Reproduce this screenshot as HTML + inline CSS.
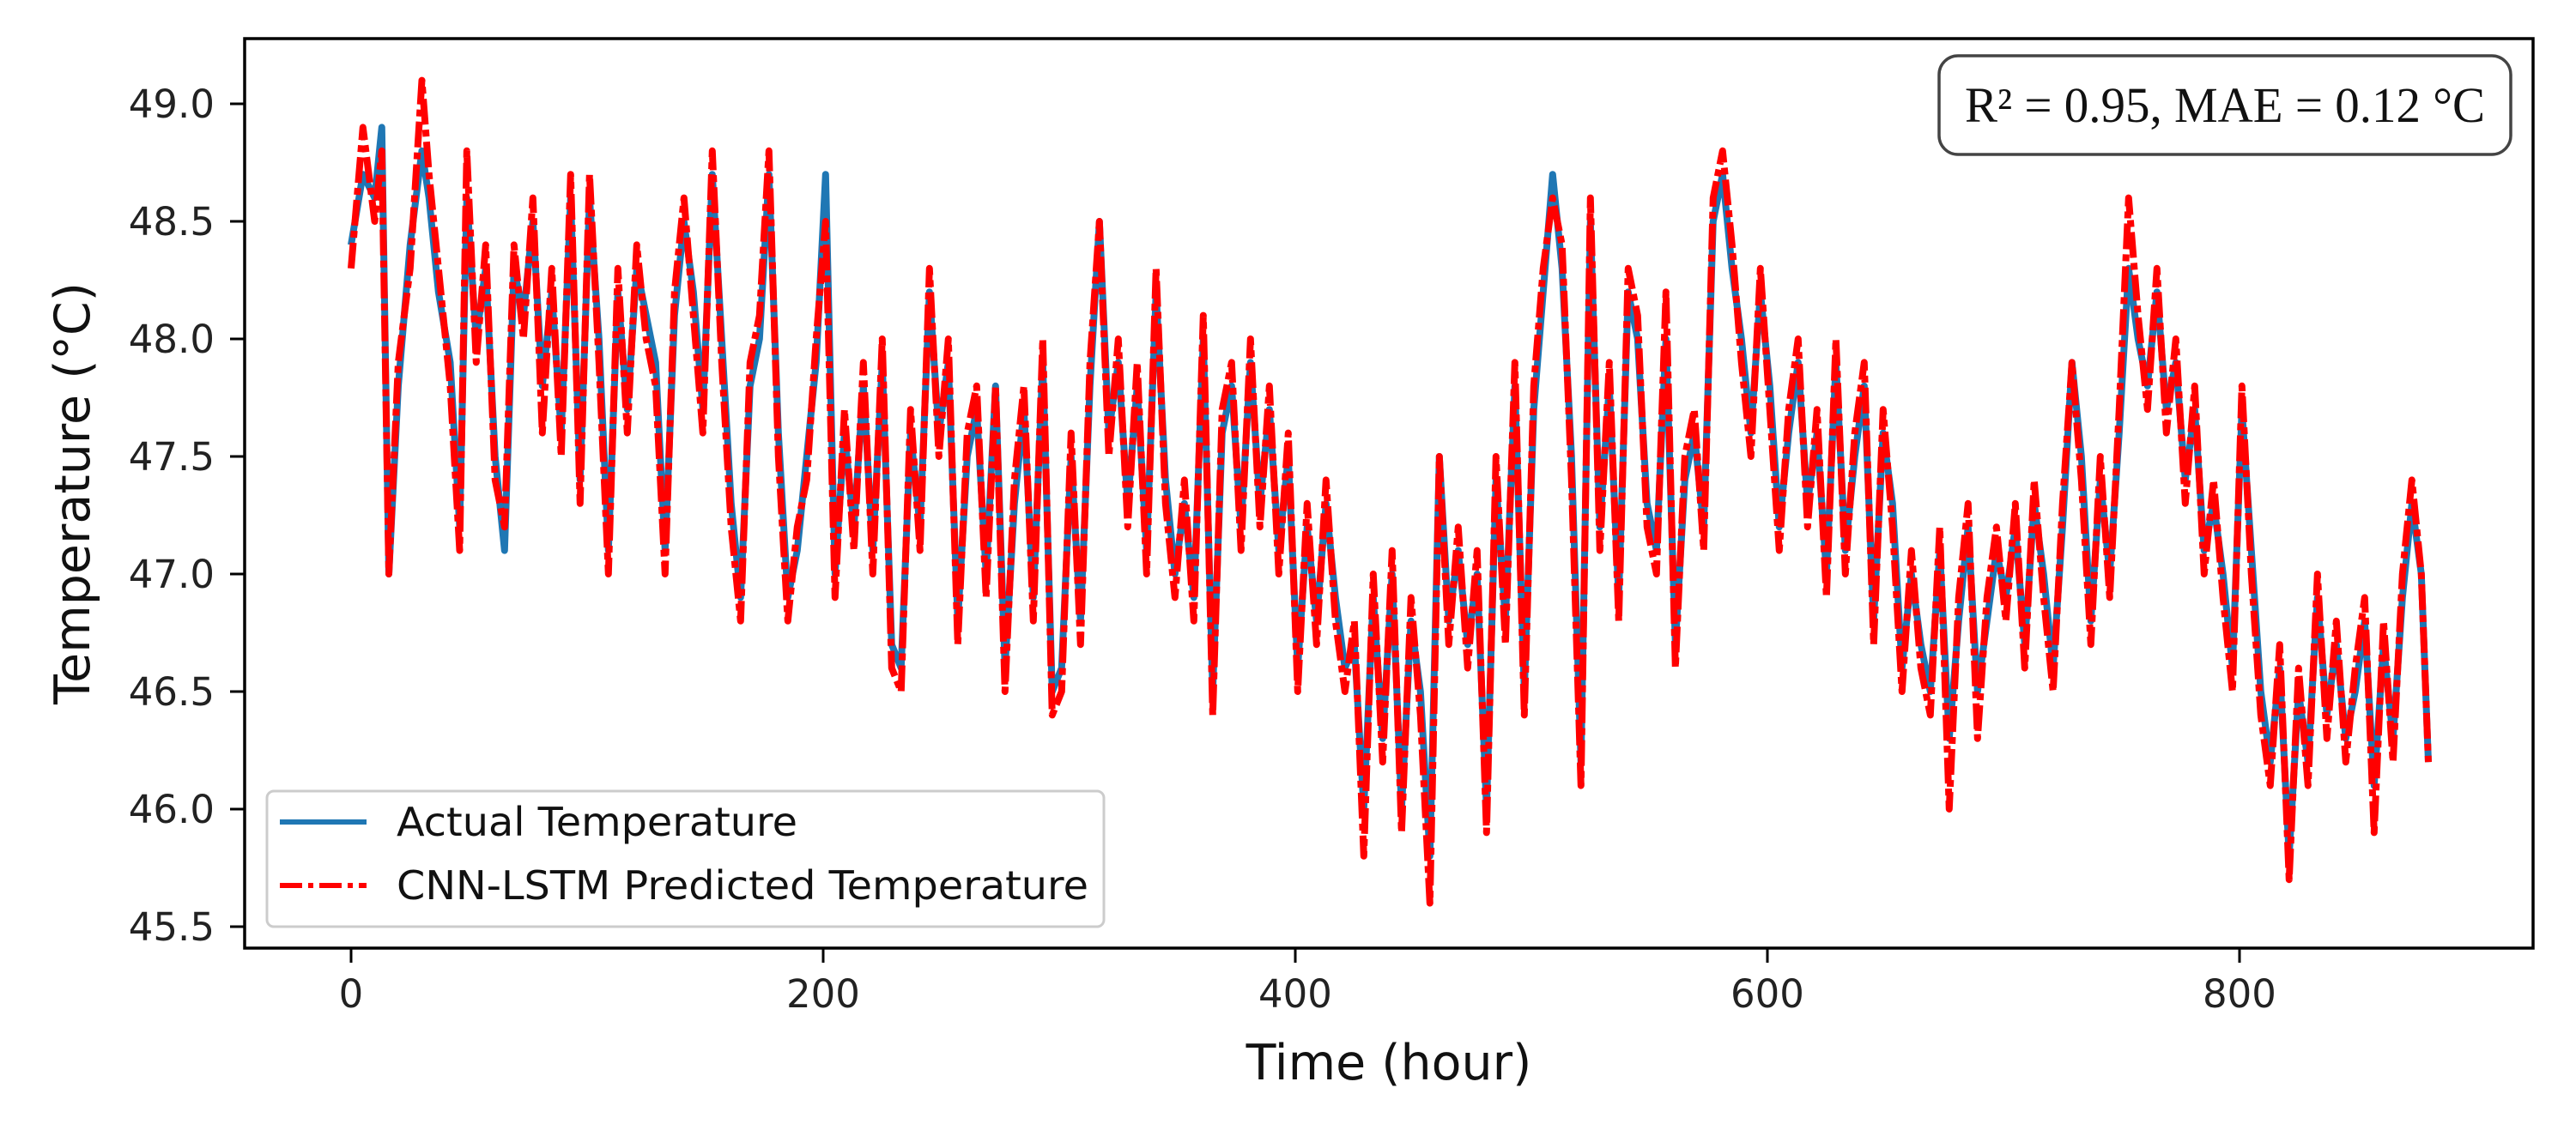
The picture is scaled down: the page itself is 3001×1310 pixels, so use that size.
<!DOCTYPE html>
<html><head><meta charset="utf-8"><style>
html,body{margin:0;padding:0;background:#fff}
svg{display:block}
</style></head><body>
<svg id="chart" width="3001" height="1310" viewBox="0 0 3001 1310" xmlns="http://www.w3.org/2000/svg">
<rect x="0" y="0" width="3001" height="1310" fill="#fff"/>
<defs><clipPath id="clip"><rect x="285" y="45" width="2666" height="1060"/></clipPath></defs>
<g id="series" clip-path="url(#clip)"></g>
<rect x="285" y="45" width="2666" height="1060" fill="none" stroke="#000" stroke-width="3.5"/>
<g id="ticks" font-family="'DejaVu Sans','Liberation Sans',sans-serif" font-size="45" fill="#222"></g>
<text x="1618" y="1258" text-anchor="middle" font-family="'DejaVu Sans','Liberation Sans',sans-serif" font-size="57" fill="#111">Time (hour)</text>
<text transform="translate(104,575) rotate(-90)" text-anchor="middle" font-family="'DejaVu Sans','Liberation Sans',sans-serif" font-size="57" fill="#111">Temperature (°C)</text>
<g>
<rect x="311" y="922" width="975" height="158" rx="8" fill="#fff" fill-opacity="0.85" stroke="#ccc" stroke-width="3"/>
<line x1="326" y1="958" x2="427" y2="958" stroke="#1f77b4" stroke-width="6"/>
<line x1="326" y1="1032" x2="427" y2="1032" stroke="#ff0000" stroke-width="6" stroke-dasharray="26,7,6,7"/>
<text x="462" y="974" font-family="'DejaVu Sans','Liberation Sans',sans-serif" font-size="46" fill="#111" textLength="467" lengthAdjust="spacingAndGlyphs">Actual Temperature</text>
<text x="462" y="1048" font-family="'DejaVu Sans','Liberation Sans',sans-serif" font-size="46" fill="#111" textLength="806" lengthAdjust="spacingAndGlyphs">CNN-LSTM Predicted Temperature</text>
</g>
<g>
<rect x="2259" y="65" width="666" height="115" rx="22" fill="#fff" stroke="#444" stroke-width="3.5"/>
<text x="2289" y="142" font-family="'Liberation Serif',serif" font-size="58" fill="#111" textLength="606" lengthAdjust="spacingAndGlyphs">R² = 0.95, MAE = 0.12 °C</text>
</g>
</svg>
<script>
const hours=[0,5,10,13,16,20,25,30,33,37,42,46,49,53,57,61,65,69,73,77,81,85,89,93,97,101,105,109,113,117,121,125,129,133,137,141,145,149,153,157,161,165,169,173,177,181,185,189,193,197,201,205,209,213,217,221,225,229,233,237,241,245,249,253,257,261,265,269,273,277,281,285,289,293,297,301,305,309,313,317,321,325,329,333,337,341,345,349,353,357,361,365,369,373,377,381,385,389,393,397,401,405,409,413,417,421,425,429,433,437,441,445,449,453,457,461,465,469,473,477,481,485,489,493,497,501,505,509,513,517,521,525,529,533,537,541,545,549,553,557,561,565,569,573,577,581,585,589,593,597,601,605,609,613,617,621,625,629,633,637,641,645,649,653,657,661,665,669,673,677,681,685,689,693,697,701,705,709,713,717,721,725,729,733,737,741,745,749,753,757,761,765,769,773,777,781,785,789,793,797,801,805,809,813,817,821,825,829,833,837,841,845,849,853,857,861,865,869,873,877,880];
const actual=[48.4,48.7,48.6,48.9,47.0,47.8,48.4,48.8,48.6,48.2,47.9,47.2,48.6,48.0,48.3,47.5,47.1,48.3,48.1,48.5,47.8,48.2,47.6,48.6,47.4,48.6,48.0,47.1,48.2,47.7,48.3,48.1,47.9,47.1,48.1,48.5,48.2,47.7,48.7,48.0,47.3,46.9,47.8,48.0,48.7,47.6,46.9,47.1,47.5,47.9,48.7,47.0,47.6,47.2,47.8,47.1,47.9,46.7,46.6,47.6,47.2,48.2,47.6,47.9,46.8,47.5,47.7,47.0,47.8,46.6,47.3,47.7,46.9,47.9,46.5,46.6,47.5,46.8,47.8,48.5,47.6,47.9,47.3,47.8,47.1,48.2,47.4,47.0,47.3,46.9,48.0,46.5,47.6,47.8,47.2,47.9,47.3,47.7,47.1,47.5,46.6,47.2,46.8,47.3,46.9,46.6,46.7,46.0,46.9,46.3,47.0,46.0,46.8,46.5,45.8,47.5,46.8,47.1,46.7,47.0,46.0,47.4,46.8,47.8,46.5,47.7,48.2,48.7,48.3,47.5,46.2,48.5,47.2,47.8,46.9,48.2,48.0,47.3,47.1,48.0,46.7,47.4,47.6,47.2,48.5,48.7,48.3,48.0,47.6,48.2,47.8,47.2,47.6,47.9,47.3,47.6,47.0,47.9,47.1,47.5,47.8,46.8,47.6,47.3,46.6,47.0,46.7,46.5,47.1,46.3,46.8,47.2,46.5,46.8,47.1,46.9,47.2,46.7,47.3,47.0,46.6,47.2,47.9,47.5,46.8,47.4,47.0,47.6,48.3,48.0,47.8,48.2,47.7,47.9,47.4,47.7,47.1,47.3,47.0,46.6,47.7,47.1,46.5,46.2,46.6,45.8,46.5,46.2,46.9,46.4,46.7,46.3,46.5,46.8,46.1,46.7,46.3,46.9,47.3,47.0,46.2];
const predicted=[48.3,48.9,48.5,48.8,47.0,47.9,48.3,49.1,48.7,48.3,47.8,47.1,48.8,47.9,48.4,47.4,47.2,48.4,48.0,48.6,47.6,48.3,47.5,48.7,47.3,48.7,47.9,47.0,48.3,47.6,48.4,48.0,47.8,47.0,48.2,48.6,48.1,47.6,48.8,47.9,47.2,46.8,47.9,48.1,48.8,47.5,46.8,47.2,47.4,48.0,48.5,46.9,47.7,47.1,47.9,47.0,48.0,46.6,46.5,47.7,47.1,48.3,47.5,48.0,46.7,47.6,47.8,46.9,47.8,46.5,47.4,47.8,46.8,48.0,46.4,46.5,47.6,46.7,47.9,48.5,47.5,48.0,47.2,47.9,47.0,48.3,47.3,46.9,47.4,46.8,48.1,46.4,47.7,47.9,47.1,48.0,47.2,47.8,47.0,47.6,46.5,47.3,46.7,47.4,46.8,46.5,46.8,45.8,47.0,46.2,47.1,45.9,46.9,46.4,45.6,47.5,46.7,47.2,46.6,47.1,45.9,47.5,46.7,47.9,46.4,47.8,48.3,48.6,48.4,47.4,46.1,48.6,47.1,47.9,46.8,48.3,48.1,47.2,47.0,48.2,46.6,47.5,47.7,47.1,48.6,48.8,48.4,47.9,47.5,48.3,47.7,47.1,47.7,48.0,47.2,47.7,46.9,48.0,47.0,47.6,47.9,46.7,47.7,47.2,46.5,47.1,46.6,46.4,47.2,46.0,46.9,47.3,46.3,46.9,47.2,46.8,47.3,46.6,47.4,46.9,46.5,47.3,47.9,47.4,46.7,47.5,46.9,47.7,48.6,48.1,47.7,48.3,47.6,48.0,47.3,47.8,47.0,47.4,46.9,46.5,47.8,47.0,46.4,46.1,46.7,45.7,46.6,46.1,47.0,46.3,46.8,46.2,46.6,46.9,45.9,46.8,46.2,47.0,47.4,47.0,46.2];
const xTicks=[0,200,400,600,800];
const yTicks=[45.5,46.0,46.5,47.0,47.5,48.0,48.5,49.0];

const NS='http://www.w3.org/2000/svg';
function xScale(h){return 409+(h-0)*2.75;}
function yScale(v){return 121+(49.0-v)*274;}
function mk(tag,attrs,parent){const e=document.createElementNS(NS,tag);for(const k in attrs)e.setAttribute(k,attrs[k]);parent.appendChild(e);return e;}
const series=document.getElementById('series');
const ticks=document.getElementById('ticks');
function pathFor(vals){return vals.map((v,i)=>(i?'L':'M')+xScale(hours[i]).toFixed(1)+','+yScale(v).toFixed(1)).join(' ');}
const pa=mk('path',{d:pathFor(actual),fill:'none',stroke:'#1f77b4','stroke-width':8,'stroke-linejoin':'round'},series);


const pp=mk('path',{d:pathFor(predicted),fill:'none',stroke:'#ff0000','stroke-width':8,'stroke-dasharray':'30,6,8,6','stroke-linejoin':'round'},series);


xTicks.forEach(t=>{
  const x=xScale(t);
  const l=mk('line',{x1:x,y1:1105,x2:x,y2:1122,stroke:'#000','stroke-width':3},ticks);
  
  
  const tx=mk('text',{x:x,y:1174,'text-anchor':'middle'},ticks);
  tx.textContent=String(t);
  
  
});
yTicks.forEach(t=>{
  const y=yScale(t);
  const l=mk('line',{x1:268,y1:y,x2:285,y2:y,stroke:'#000','stroke-width':3},ticks);
  
  
  const tx=mk('text',{x:250,y:y+16,'text-anchor':'end'},ticks);
  tx.textContent=t.toFixed(1);
  
  
});
</script>
</body></html>
